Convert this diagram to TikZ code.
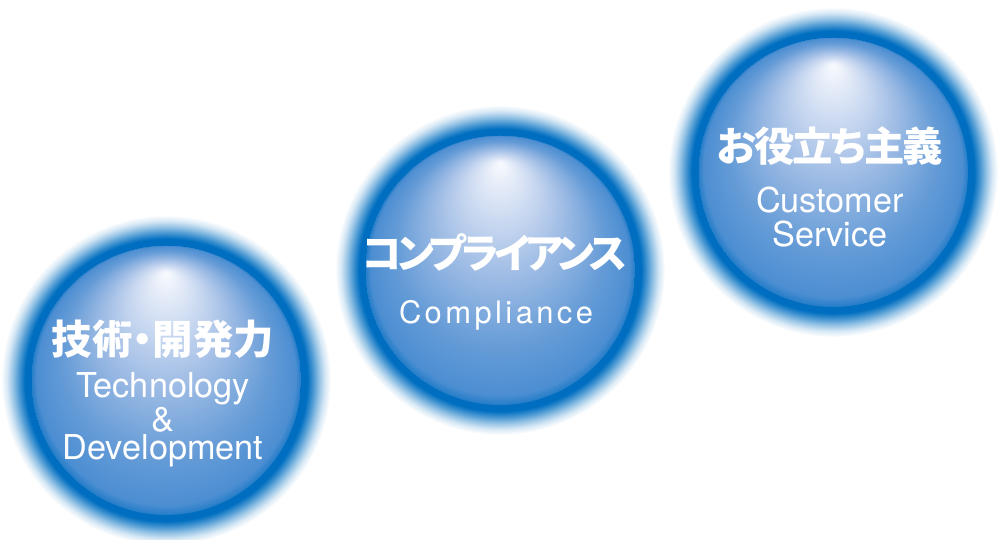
\documentclass[tikz,border=0pt]{standalone}
\usepackage{fontspec}
\setmainfont{TeX Gyre Heros}
\newfontfamily\jpfont{Noto Sans CJK JP}[RawFeature=+palt]
\usetikzlibrary{shapes.geometric}

\definecolor{ringblue}{RGB}{0,110,192}
\definecolor{sphhi}{RGB}{248,250,254}
\definecolor{sphlight}{RGB}{214,225,244}
\definecolor{sphmid}{RGB}{160,189,229}
\definecolor{sphlow}{RGB}{102,156,215}
\definecolor{sphedge}{RGB}{76,142,210}

% glow round each ball, dark ring fading out to white (25bp = edge of node)
\pgfdeclareradialshading{glowshade}{\pgfpoint{0bp}{0bp}}{%
  color(0bp)=(ringblue); color(21.4bp)=(ringblue);
  color(22.3bp)=(ringblue!72!white); color(23.2bp)=(ringblue!42!white);
  color(24.1bp)=(ringblue!16!white); color(25bp)=(white)}
% the ball itself, highlight near the top
\pgfdeclareradialshading{ballshade}{\pgfpoint{0bp}{20bp}}{%
  color(0bp)=(sphhi); color(4.5bp)=(sphlight); color(11.5bp)=(sphmid);
  color(19bp)=(sphlow); color(24bp)=(sphedge); color(25bp)=(ringblue!55!sphedge)}

\begin{document}
\begin{tikzpicture}[
    x=0.02cm, y=0.02cm,
    glow/.style={circle, inner sep=0pt, minimum size=6.6cm, shade, shading=glowshade},
    ball/.style={circle, inner sep=0pt, minimum size=5.4cm, shade, shading=ballshade},
    titlejp/.style={font=\jpfont\bfseries\fontsize{23}{27}\selectfont, text=white, anchor=base, inner sep=0pt},
    titleen/.style={font=\fontsize{19.5}{16.4}\selectfont, text=white, align=center, anchor=base, inner sep=0pt}
]
\useasboundingbox (0,0) rectangle (1001,540);

% --- Kugeln
\node[glow] (techglow) at (166,160) {};
\node[ball] (tech) at (166,160) {};
\node[glow] (compglow) at (500,270) {};
\node[ball] (comp) at (500,270) {};
\node[glow] (custglow) at (833,368) {};
\node[ball] (cust) at (833,368) {};

% --- Texte (base = letzte Zeile)
\node[titlejp] (techjp) at (163,185) {技術・開発力};
\node[titleen] (techen) at (163,80) {Technology\\\&\\Development};

\node[titlejp, font=\jpfont\bfseries\fontsize{23}{27}\selectfont\addfontfeatures{LetterSpace=-11}] (compjp) at (495,271) {コンプライアンス};
\node[titleen, font=\fontsize{17.6}{20}\selectfont\addfontfeatures{LetterSpace=11}] (compen) at (496,216) {Compliance};

\node[titlejp, font=\jpfont\bfseries\fontsize{23}{27}\selectfont\addfontfeatures{LetterSpace=-5}] (custjp) at (830,378) {お役立ち主義};
\node[titleen, font=\fontsize{19.5}{19.8}\selectfont] (custen) at (830,293) {Customer\\Service};

\end{tikzpicture}
\end{document}
